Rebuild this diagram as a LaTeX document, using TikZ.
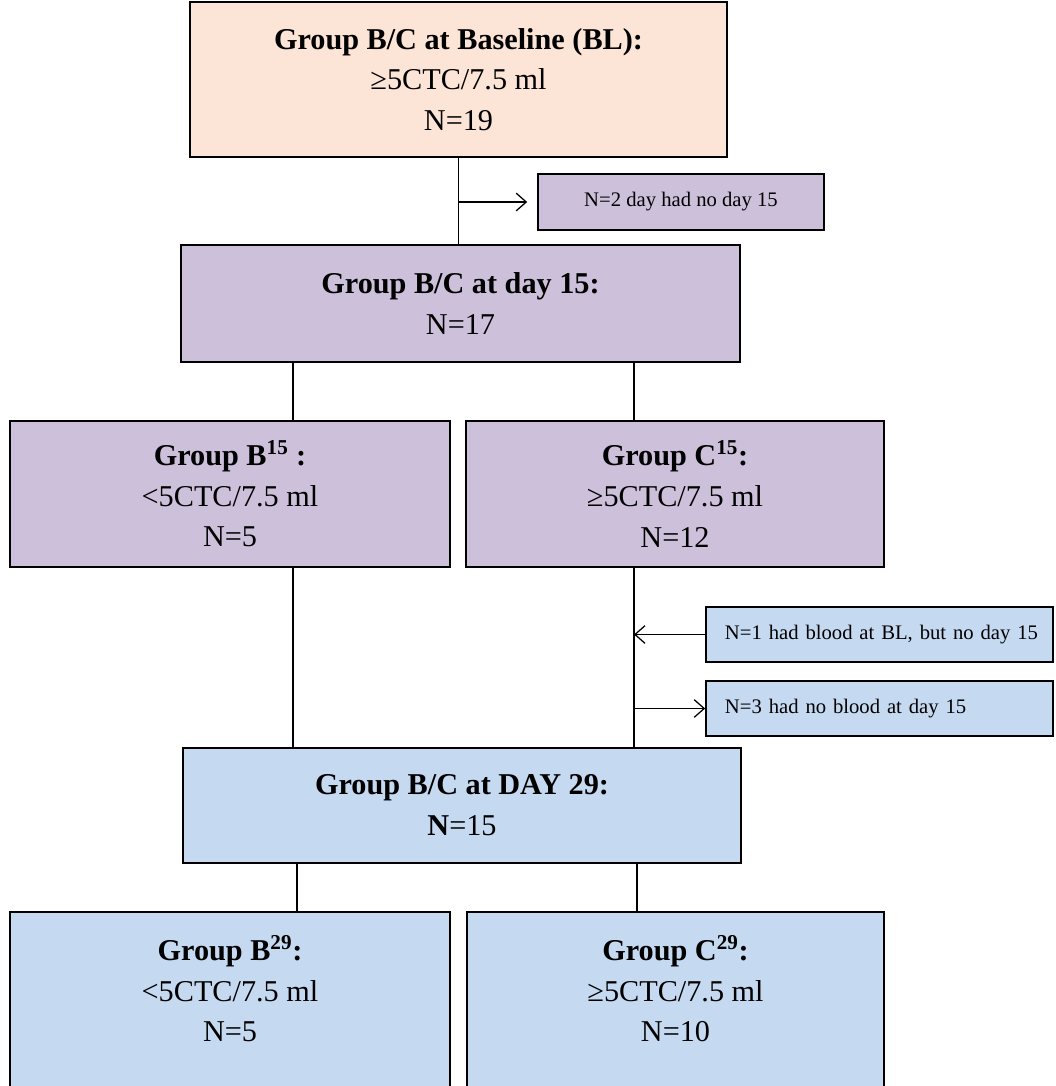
\documentclass[tikz,border=0pt]{standalone}
\usepackage{fontspec}
\setmainfont{Liberation Serif}
\usetikzlibrary{arrows.meta}

\definecolor{peach}{RGB}{252,228,214}
\definecolor{lilac}{RGB}{204,192,218}
\definecolor{paleblue}{RGB}{197,217,241}

\tikzset{
  grptxt/.style={align=center, inner sep=0pt, font=\fontsize{21.5}{29}\selectfont},
  grp/.style={grptxt, draw=black, line width=1.1pt},
  note/.style={draw=black, line width=1.1pt, inner sep=0pt, minimum height=1.375cm,
    font=\fontsize{14.7}{18}\selectfont},
  link/.style={line width=0.9pt},
  flow/.style={line width=0.9pt, -{Straight Barb[length=0.25cm,width=0.44cm,line width=0.9pt]}}
}

\begin{document}
\begin{tikzpicture}[x=0.025cm, y=-0.025cm]
\path[use as bounding box] (0,0) rectangle (1055,1086);
\clip (0,0) rectangle (1055,1086);

% x positions of the joining lines
\coordinate (lx) at (293,0);
\coordinate (rx) at (634,0);
\coordinate (lx2) at (297,0);
\coordinate (rx2) at (637,0);

% baseline
\node[grp, fill=peach, minimum width=13.425cm, minimum height=3.875cm] (bl) at (458.5,79.5)
  {\textbf{Group B/C at Baseline (BL):}\\ ≥5CTC/7.5 ml\\ N=19};
\node[note, fill=lilac, minimum width=7.15cm, minimum height=1.4cm] (n2) at (681,202)
  {N=2 day had no day 15};

% day 15
\node[grp, fill=lilac, minimum width=13.975cm, minimum height=2.925cm] (d15) at (460.5,303.5)
  {\textbf{Group B/C at day 15:}\\ N=17};
\node[grp, fill=lilac, minimum width=11cm, minimum height=3.65cm] (b15) at (230,494)
  {\textbf{Group B\textsuperscript{15} :}\\ <5CTC/7.5 ml\\ N=5};
\node[grp, fill=lilac, minimum width=10.45cm, minimum height=3.65cm] (c15) at (675,494)
  {\textbf{Group C\textsuperscript{15}:}\\ ≥5CTC/7.5 ml\\ N=12};

% side notes
\node[note, fill=paleblue, minimum width=8.675cm, text width=7.725cm, align=left] (n1) at (879.5,634.5)
  {\mbox{N=1 had blood at BL, but no day 15}};
\node[note, fill=paleblue, minimum width=8.675cm, text width=7.725cm, align=left] (n3) at (879.5,708.5)
  {\mbox{N=3 had no blood at day 15}};

% day 29
\node[grp, fill=paleblue, minimum width=13.95cm, minimum height=2.875cm] (d29) at (462,805.5)
  {\textbf{Group B/C at DAY 29:}\\ \textbf{N}=15};
\node[grp, fill=paleblue, minimum width=11cm, minimum height=4.75cm] (b29) at (230,1007) {};
\node[grptxt] (b29txt) at (230,989)
  {\textbf{Group B\textsuperscript{29}:}\\ <5CTC/7.5 ml\\ N=5};
\node[grp, fill=paleblue, minimum width=10.425cm, minimum height=4.75cm] (c29) at (675.5,1007) {};
\node[grptxt] (c29txt) at (675.5,989)
  {\textbf{Group C\textsuperscript{29}:}\\ ≥5CTC/7.5 ml\\ N=10};

% connectors
\draw[link] (bl.south) -- (bl.south |- d15.north);
\draw[flow, shorten >=0.25cm] (bl.south |- n2.west) -- (n2.west);
\draw[link] (d15.south -| lx) -- (b15.north -| lx);
\draw[link] (d15.south -| rx) -- (c15.north -| rx);
\draw[link] (b15.south -| lx) -- (d29.north -| lx);
\draw[link] (c15.south -| rx) -- (d29.north -| rx);
\draw[flow] (n1.west) -- (n1.west -| rx);
\draw[flow] (n3.west -| rx) -- (n3.west);
\draw[link] (d29.south -| lx2) -- (b29.north -| lx2);
\draw[link] (d29.south -| rx2) -- (c29.north -| rx2);
\end{tikzpicture}
\end{document}
